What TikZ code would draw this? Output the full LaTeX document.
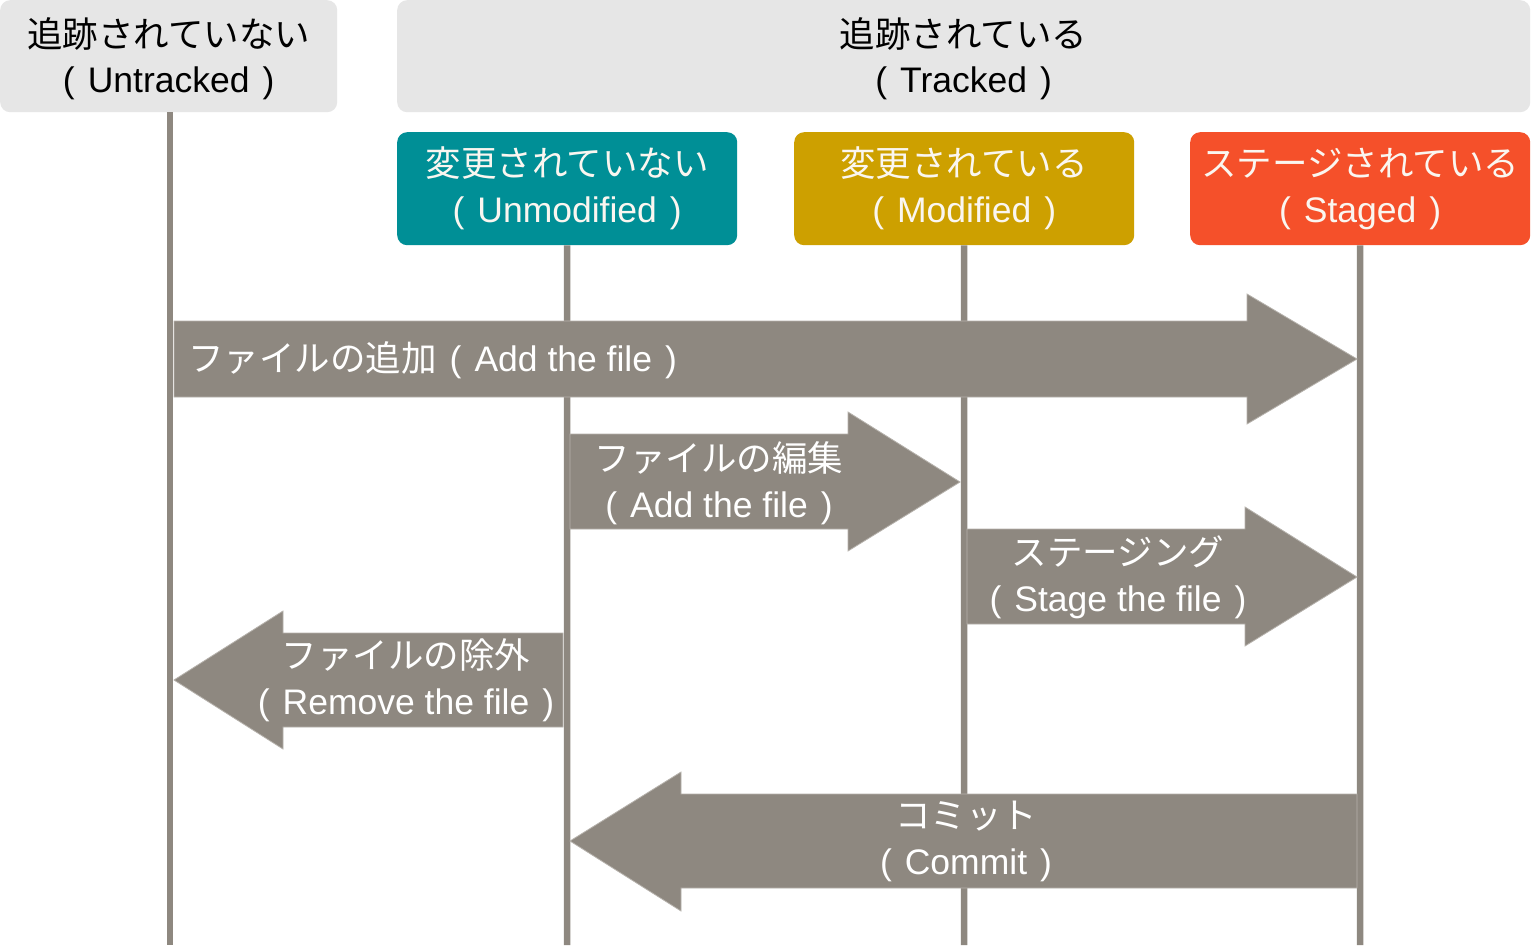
\documentclass[tikz,border=0pt]{standalone}
\usepackage{fontspec}
\setmainfont{Liberation Sans}
\newfontfamily\jpfont{Noto Sans CJK JP}
\newcommand\J[1]{{\jpfont #1}}
\newcommand\paren[1]{(\hspace{13pt}#1\hspace{13pt})}
\definecolor{hdrgray}{HTML}{E6E6E6}
\definecolor{teal}{HTML}{008F96}
\definecolor{mustard}{HTML}{CDA000}
\definecolor{staged}{HTML}{F5502A}
\definecolor{arrgray}{HTML}{8E8880}
\definecolor{offwhite}{HTML}{FAF6F0}
\begin{document}
\begin{tikzpicture}[x=1pt,y=-1pt,
  hdrbox/.style={fill=hdrgray, rounded corners=10pt, anchor=north west, inner sep=0pt, minimum height=112},
  hdrlbl/.style={inner sep=0pt, align=center, text=black, font=\fontsize{35.5}{45}\selectfont},
  statebox/.style={rounded corners=10pt, anchor=north west, inner sep=0pt, align=center, text=offwhite, font=\fontsize{35.5}{46}\selectfont, minimum width=340, minimum height=113},
  life/.style={draw=arrgray, line width=6.5pt},
  arr/.style={fill=arrgray, draw=arrgray!65!white, line width=0.8pt},
  arrlbl/.style={inner sep=0pt, align=center, text=white, font=\fontsize{35.5}{46}\selectfont}]
\useasboundingbox (0,0) rectangle (1531,945);
\fill[white] (0,0) rectangle (1531,945);

% header boxes
\node[hdrbox, minimum width=337] (untr) at (0,0) {};
\node[hdrlbl] (untrl) at ([yshift=-3pt]untr.center) {\J{追跡されていない}\\\paren{Untracked}};
\node[hdrbox, minimum width=1133] (tr) at (397,0) {};
\node[hdrlbl] (trl) at ([yshift=-3pt]tr.center) {\J{追跡されている}\\\paren{Tracked}};

% state boxes
\node[statebox, fill=teal] (unmod) at (397,132) {\J{変更されていない}\\\paren{Unmodified}};
\node[statebox, fill=mustard] (mod) at (794,132) {\J{変更されている}\\\paren{Modified}};
\node[statebox, fill=staged] (stg) at (1190,132) {\J{ステージされている}\\\paren{Staged}};

% lifeline ends
\coordinate (uend) at (170,945);
\coordinate (umend) at (567,945);
\coordinate (mend) at (964,945);
\coordinate (send) at (1360,945);

% lifelines
\draw[life] (uend |- untr.south) -- (uend);
\draw[life] (unmod.south) -- (umend);
\draw[life] (mod.south) -- (mend);
\draw[life] (stg.south) -- (send);

% arrow 1: add the file
\path[arr] (174,321) -- (1247,321) -- (1247,294) -- (1357,359) -- (1247,424) -- (1247,397) -- (174,397) -- cycle;
\node[arrlbl, anchor=west] (a1) at (188,360) {\J{ファイルの追加}\hspace{13pt}\paren{Add the file}};

% arrow 2: edit
\path[arr] (570,434) -- (848,434) -- (848,412) -- (960,482) -- (848,551) -- (848,529) -- (570,529) -- cycle;
\node[arrlbl] (a2) at (719,483) {\J{ファイルの編集}\\\paren{Add the file}};

% arrow 3: staging
\path[arr] (967,529) -- (1245,529) -- (1245,507) -- (1357,577) -- (1245,646) -- (1245,624) -- (967,624) -- cycle;
\node[arrlbl] (a3) at (1118,577) {\J{ステージング}\\\paren{Stage the file}};

% arrow 4: remove
\path[arr] (563,633) -- (283,633) -- (283,611) -- (174,680) -- (283,749) -- (283,727) -- (563,727) -- cycle;
\node[arrlbl] (a4) at (406,680) {\J{ファイルの除外}\\\paren{Remove the file}};

% arrow 5: commit
\path[arr] (1357,794) -- (681,794) -- (681,772) -- (570,841) -- (681,911) -- (681,888) -- (1357,888) -- cycle;
\node[arrlbl] (a5) at (966,841) {\J{コミット}\\\paren{Commit}};
\end{tikzpicture}
\end{document}
